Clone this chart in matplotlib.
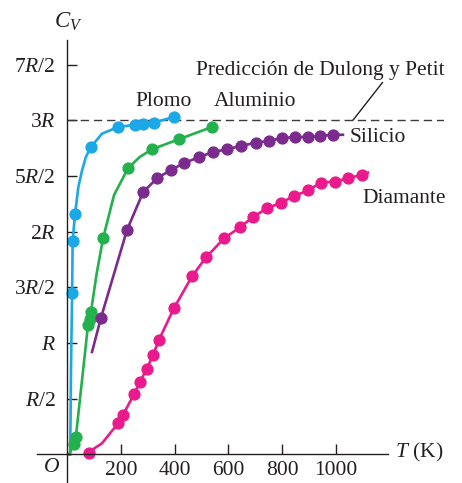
import matplotlib
matplotlib.use('Agg')
import matplotlib.pyplot as plt

plt.rcParams['font.family'] = ['Liberation Serif', 'DejaVu Serif']
plt.rcParams['mathtext.fontset'] = 'custom'
plt.rcParams['mathtext.rm'] = 'Liberation Serif'
plt.rcParams['mathtext.it'] = 'Liberation Serif:italic'

# capacidad calorifica molar C_V (en unidades de R) frente a T (K)
plomo_T = [19, 21, 30, 89, 190, 253, 283, 323, 398]
plomo_C = [1.45, 1.92, 2.16, 2.76, 2.94, 2.96, 2.97, 2.98, 3.03]
plomo_curva_T = [12, 15, 19, 21, 30, 42, 56, 70, 89, 130, 190, 253, 283, 323, 398]
plomo_curva_C = [0.0, 0.8, 1.45, 1.92, 2.16, 2.40, 2.55, 2.67, 2.76, 2.88, 2.94, 2.96,
                 2.97, 2.98, 3.03]

alum_T = [26, 33, 78, 85, 89, 134, 227, 316, 416, 539]
alum_C = [0.09, 0.16, 1.16, 1.22, 1.28, 1.94, 2.57, 2.74, 2.83, 2.94]
alum_curva_T = [7, 26, 33, 78, 85, 89, 110, 134, 175, 227, 270, 316, 416, 539]
alum_curva_C = [0.0, 0.09, 0.16, 1.16, 1.22, 1.28, 1.62, 1.94, 2.33, 2.57, 2.67, 2.74,
                2.83, 2.94]

sil_T = [126, 223, 283, 335, 387, 435, 491, 543, 595, 647, 703, 751, 799, 848, 896, 941, 989]
sil_C = [1.225, 2.015, 2.355, 2.48, 2.555, 2.615, 2.67, 2.715, 2.74, 2.77, 2.80, 2.815,
         2.84, 2.85, 2.85, 2.86, 2.87]
sil_curva_T = [93] + sil_T + [1026]
sil_curva_C = [0.92] + sil_C + [2.87]

diam_T = [82, 190, 208, 249, 271, 297, 320, 342, 398, 465, 517, 584, 643, 691, 743, 796,
          844, 896, 944, 996, 1045, 1097]
diam_C = [0.015, 0.28, 0.355, 0.54, 0.65, 0.77, 0.895, 1.03, 1.315, 1.60, 1.77, 1.94, 2.04,
          2.13, 2.21, 2.26, 2.32, 2.37, 2.44, 2.45, 2.48, 2.51]
diam_curva_T = [67, 130] + diam_T[1:] + [1119]
diam_curva_C = [0.0, 0.1] + diam_C[1:] + [2.53]

x_ticks = [200, 400, 600, 800, 1000]
y_ticks = [0.5, 1.0, 1.5, 2.0, 2.5, 3.0, 3.5]
y_labels = ['$R$/2', '$R$', '3$R$/2', '2$R$', '5$R$/2', '3$R$', '7$R$/2']

texto = '#231f20'
c_plomo = '#1ba8e6'
c_alum = '#22b14c'
c_sil = '#7b2a8e'
c_diam = '#ea1a8c'

fig = plt.figure(figsize=(4.62, 4.83), dpi=100)
ax = fig.add_axes([0.081, 0.0, 0.879, 0.917])
ax.set_xlim(-110, 1400)
ax.set_ylim(-0.256, 3.72)

ax.spines['top'].set_visible(False)
ax.spines['right'].set_visible(False)
ax.spines['left'].set_position(('data', 0))
ax.spines['bottom'].set_position(('data', 0))
ax.spines['bottom'].set_bounds(-110, 1193)
for s in ['left', 'bottom']:
    ax.spines[s].set_color(texto)
    ax.spines[s].set_linewidth(1.0)

ax.set_xticks(x_ticks)
ax.set_xticklabels([str(t) for t in x_ticks])
ax.set_yticks(y_ticks)
ax.set_yticklabels(y_labels)
ax.tick_params(axis='x', direction='in', length=7, width=1.0, pad=5, labelsize=15.5,
               colors=texto)
ax.tick_params(axis='y', direction='in', length=7, width=1.0, pad=8, labelsize=15.5,
               colors=texto)

# prediccion de Dulong y Petit
ax.hlines(3.0, 0, 1400, colors='#3a3a3a', linewidth=1.0, linestyles=(0, (6, 3.5)))

lw = 1.9
ms = 7.8
ax.plot(plomo_curva_T, plomo_curva_C, color=c_plomo, lw=lw)
ax.plot(plomo_T, plomo_C, 'o', color=c_plomo, ms=ms)
ax.plot(alum_curva_T, alum_curva_C, color=c_alum, lw=lw)
ax.plot(alum_T, alum_C, 'o', color=c_alum, ms=ms)
ax.plot(sil_curva_T, sil_curva_C, color=c_sil, lw=lw)
ax.plot(sil_T, sil_C, 'o', color=c_sil, ms=ms)
ax.plot(diam_curva_T, diam_curva_C, color=c_diam, lw=lw)
ax.plot(diam_T, diam_C, 'o', color=c_diam, ms=ms, clip_on=False)

fs = 15.5
ax.annotate('Predicción de Dulong y Petit', xy=(1063, 3.0), xytext=(941, 3.45),
            ha='center', va='center', fontsize=fs, color=texto,
            arrowprops=dict(arrowstyle='-', color=texto, lw=1.0, shrinkA=0, shrinkB=0,
                            relpos=(0.76, 0.0)))
ax.text(359, 3.165, 'Plomo', ha='center', va='center', fontsize=fs, color=texto)
ax.text(700, 3.165, 'Aluminio', ha='center', va='center', fontsize=fs, color=texto)
ax.text(1052, 2.85, 'Silicio', ha='left', va='center', fontsize=fs, color=texto)
ax.text(1100, 2.30, 'Diamante', ha='left', va='center', fontsize=fs, color=texto)
ax.text(1219, 0.02, '$T$ (K)', ha='left', va='center', fontsize=fs, color=texto)
ax.text(-59, -0.12, '$O$', ha='center', va='center', fontsize=fs, color=texto)
ax.text(4, 3.88, '$C_V$', ha='center', va='center', fontsize=16.5, color=texto,
        clip_on=False)

fig.savefig('out.png', dpi=100)
